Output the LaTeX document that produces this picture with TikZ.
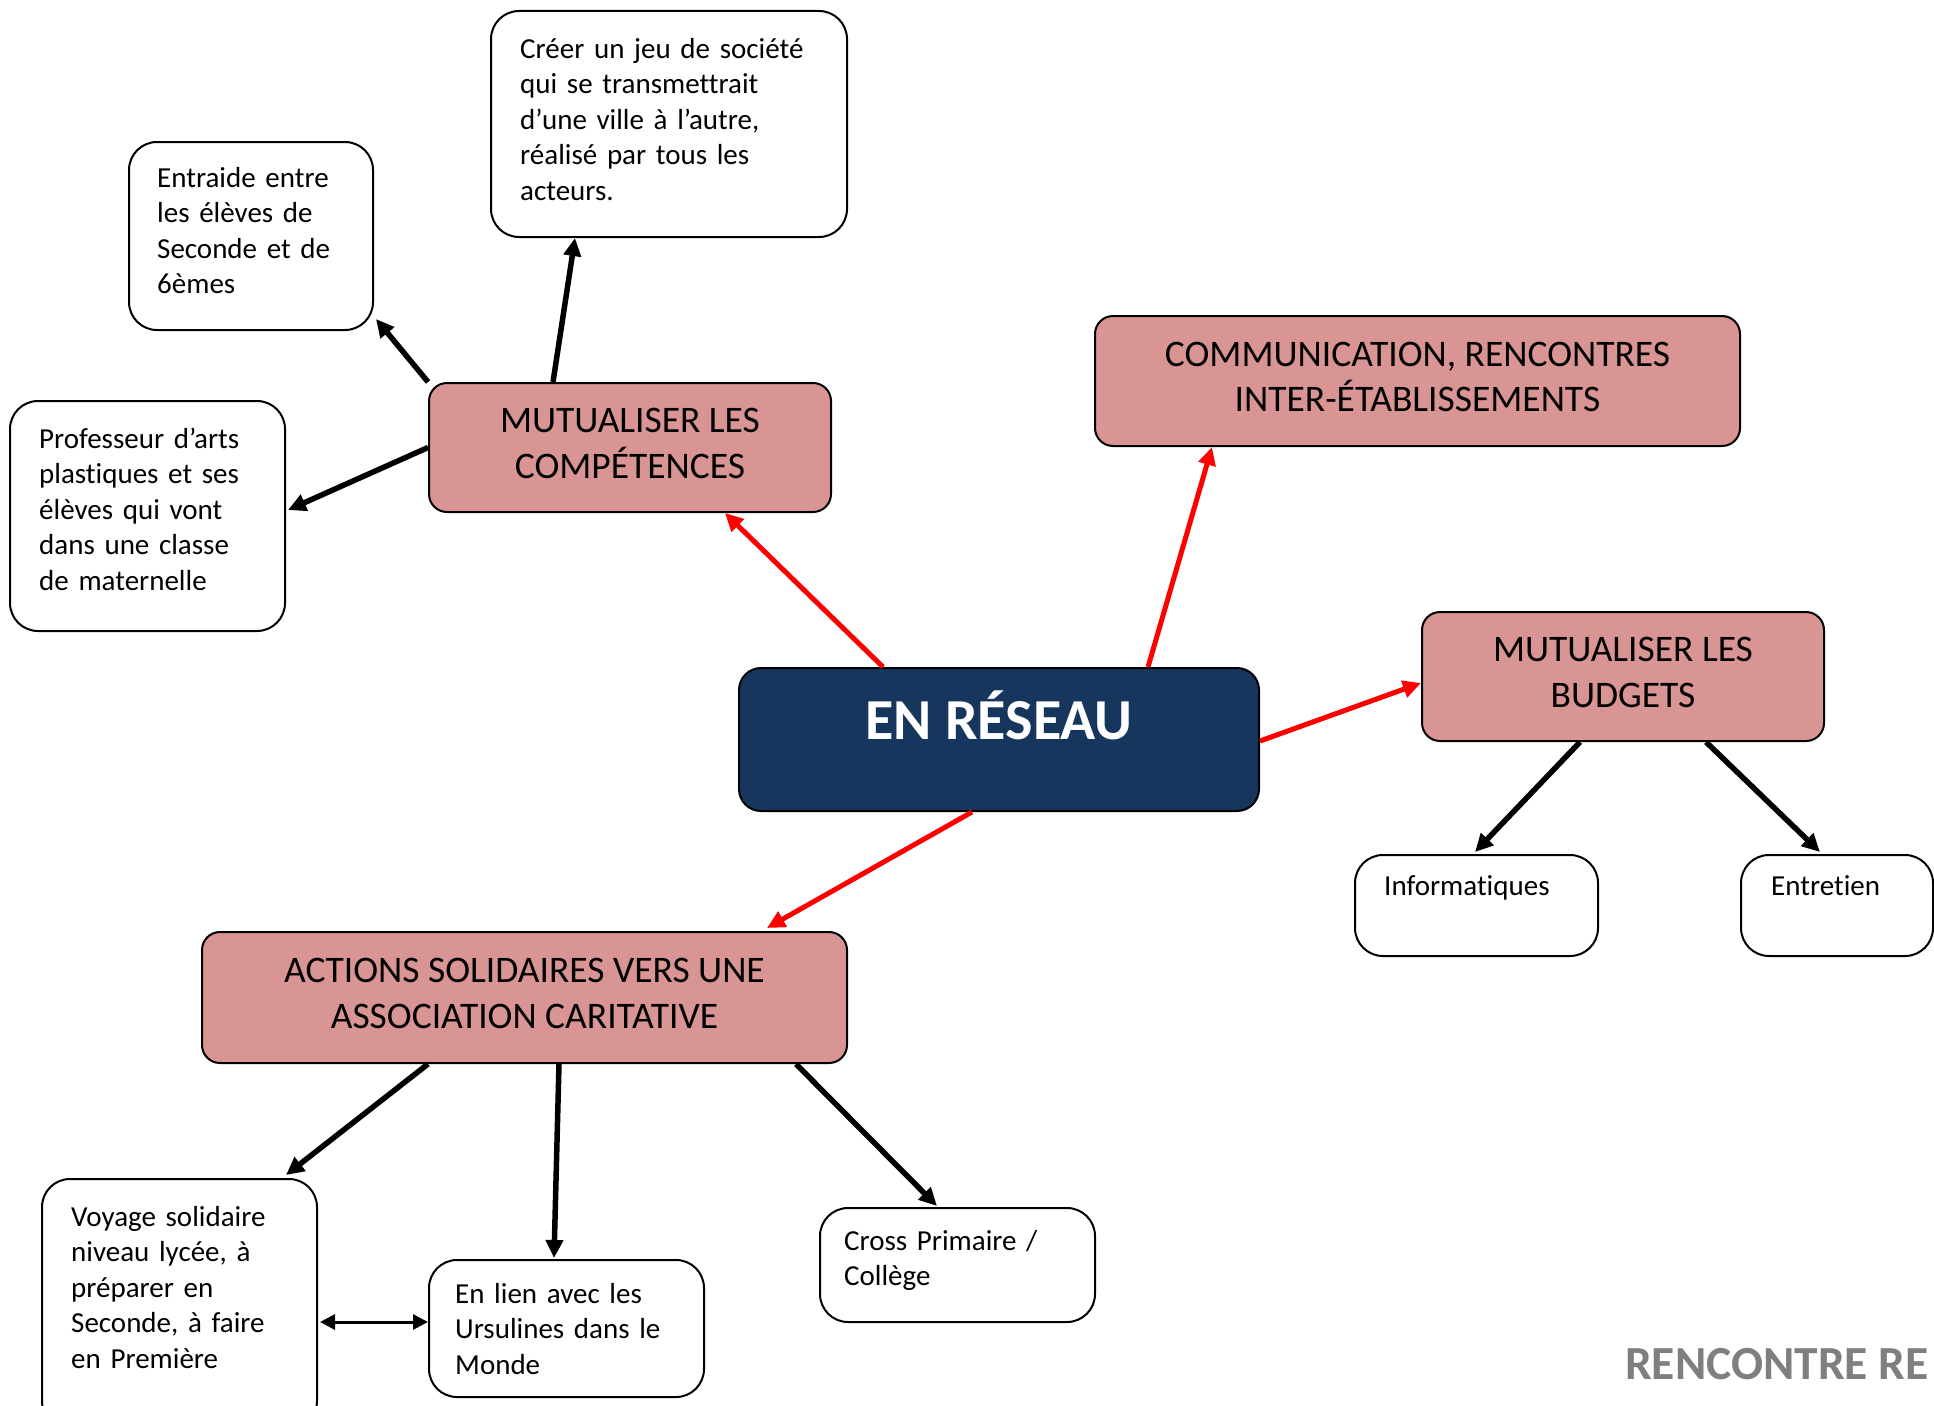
\documentclass[tikz,border=0pt]{standalone}
\usepackage{fontspec}
\setmainfont{Carlito}[Ligatures=NoCommon]
\usetikzlibrary{arrows.meta}
\definecolor{pinkfill}{HTML}{D99594}
\definecolor{navy}{HTML}{17365D}
\definecolor{greytxt}{HTML}{7F7F7F}
\tikzset{
  wbox/.style={draw=black, line width=2pt, rounded corners=28pt, fill=white, inner sep=0pt, anchor=north west},
  pbox/.style={draw=black, line width=2pt, rounded corners=18pt, fill=pinkfill, inner sep=0pt, anchor=north west},
  ptext/.style={inner sep=0pt, align=center, font=\fontsize{37.5}{45.6}\selectfont},
  nbox/.style={draw=black, line width=2pt, rounded corners=22pt, fill=navy, inner sep=0pt, anchor=north west},
  btext/.style={anchor=north west, inner sep=0pt, align=left, font=\fontsize{29}{35.5}\selectfont},
  blk/.style={line width=5.5pt, -{Triangle[length=18pt,width=17pt]}},
  rd/.style={red, line width=5pt, -{Triangle[length=18pt,width=17pt]}},
  dbl/.style={line width=3pt, {Triangle[length=15pt,width=15pt]}-{Triangle[length=15pt,width=15pt]}},
}
\begin{document}
\begin{tikzpicture}[x=1pt,y=1pt]
\useasboundingbox (0,0) rectangle (1934,-1405);
\clip (0,0) rectangle (1934,-1405);

% white boxes
\node[wbox, minimum width=356pt, minimum height=226pt] (cre) at (490,-10) {};
\node[btext, text width=320pt] (cret) at ([xshift=30pt,yshift=-23pt]cre.north west)
  {\strut Créer un jeu de société\\qui se transmettrait\\d’une ville à l’autre,\\réalisé par tous les\\acteurs.};

\node[wbox, minimum width=244pt, minimum height=188pt] (ent) at (128,-141) {};
\node[btext, text width=210pt] (entt) at ([xshift=29pt,yshift=-21pt]ent.north west)
  {\strut Entraide entre\\les élèves de\\Seconde et de\\6èmes};

\node[wbox, minimum width=275pt, minimum height=230pt] (prof) at (9,-400) {};
\node[btext, text width=240pt] (proft) at ([xshift=30pt,yshift=-23pt]prof.north west)
  {\strut Professeur d’arts\\plastiques et ses\\élèves qui vont\\dans une classe\\de maternelle};

\node[wbox, minimum width=243pt, minimum height=101pt] (info) at (1354,-854) {};
\node[btext, text width=210pt] (infot) at ([xshift=30pt,yshift=-16pt]info.north west)
  {\strut Informatiques};

\node[wbox, minimum width=192pt, minimum height=101pt] (entr) at (1740,-854) {};
\node[btext, text width=160pt] (entrt) at ([xshift=31pt,yshift=-16pt]entr.north west)
  {\strut Entretien};

\node[wbox, minimum width=275pt, minimum height=250pt] (voy) at (41,-1178) {};
\node[btext, text width=240pt] (voyt) at ([xshift=30pt,yshift=-23pt]voy.north west)
  {\strut Voyage solidaire\\niveau lycée, à\\préparer en\\Seconde, à faire\\en Première};

\node[wbox, minimum width=275pt, minimum height=137pt] (lien) at (428,-1259) {};
\node[btext, text width=240pt] (lient) at ([xshift=27pt,yshift=-19pt]lien.north west)
  {\strut En lien avec les\\Ursulines dans le\\Monde};

\node[wbox, minimum width=275pt, minimum height=114pt] (cross) at (819,-1207) {};
\node[btext, text width=240pt] (crosst) at ([xshift=25pt,yshift=-18pt]cross.north west)
  {\strut Cross Primaire /\\Collège};

% pink boxes
\node[pbox, minimum width=402pt, minimum height=129pt] (comp) at (428,-382) {};
\node[ptext] (compt) at ([yshift=4pt]comp.center) {MUTUALISER LES\\COMPÉTENCES};
\node[pbox, minimum width=645pt, minimum height=130pt] (comm) at (1094,-315) {};
\node[ptext] (commt) at ([yshift=4pt]comm.center) {COMMUNICATION, RENCONTRES\\INTER-ÉTABLISSEMENTS};
\node[pbox, minimum width=402pt, minimum height=129pt] (budg) at (1421,-611) {};
\node[ptext] (budgt) at ([yshift=4pt]budg.center) {MUTUALISER LES\\BUDGETS};
\node[pbox, minimum width=645pt, minimum height=131pt] (act) at (201,-931) {};
\node[ptext] (actt) at ([yshift=4pt]act.center) {ACTIONS SOLIDAIRES VERS UNE\\ASSOCIATION CARITATIVE};

% central box
\node[nbox, minimum width=520pt, minimum height=143pt] (reseau) at (738,-667) {};
\node[anchor=base, inner sep=0pt, text=white, font=\bfseries\fontsize{58}{70}\selectfont] (reseaut) at (reseau.center) {EN RÉSEAU};

% footer text
\node[anchor=base west, inner sep=0pt, text=greytxt, font=\bfseries\fontsize{47.5}{56}\selectfont] (renc) at (1625,-1379) {RENCONTRE RE};

% red arrows
\draw[rd] ([xshift=145pt]reseau.north west) -- ([xshift=297pt]comp.south west);
\draw[rd] ([xshift=410pt]reseau.north west) -- ([xshift=118pt]comm.south west);
\draw[rd] ([yshift=-74pt]reseau.north east) -- ([yshift=-72pt]budg.north west);
\draw[rd] ([xshift=234pt]reseau.south west) -- ([xshift=566pt,yshift=3pt]act.north west);

% black arrows
\draw[blk] ([xshift=125pt]comp.north west) -- ([xshift=85pt]cre.south west);
\draw[blk] (comp.north west) -- ([xshift=2pt,yshift=12pt]ent.south east);
\draw[blk] (comp.west) -- ([xshift=2pt,yshift=6pt]prof.east);
\draw[blk] ([xshift=159pt]budg.south west) -- ([xshift=121pt,yshift=2pt]info.north west);
\draw[blk] ([xshift=285pt]budg.south west) -- ([xshift=80pt,yshift=2pt]entr.north west);
\draw[blk] ([xshift=227pt]act.south west) -- ([xshift=245pt,yshift=3pt]voy.north west);
\draw[blk] ([xshift=358pt]act.south west) -- ([xshift=126pt,yshift=1pt]lien.north west);
\draw[blk] ([xshift=595pt]act.south west) -- ([xshift=118pt,yshift=1pt]cross.north west);
\draw[dbl] ([xshift=2pt,yshift=-144pt]voy.north east) -- ([yshift=-63pt]lien.north west);
\end{tikzpicture}
\end{document}
